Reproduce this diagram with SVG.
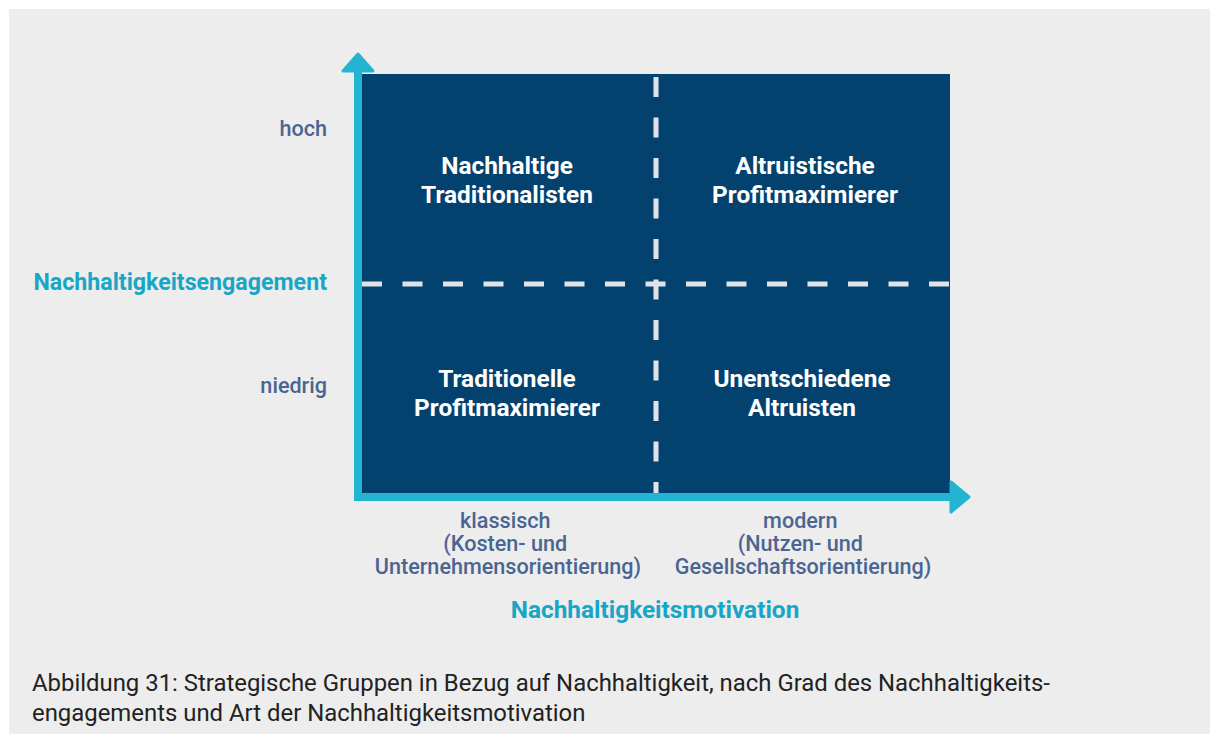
<svg xmlns="http://www.w3.org/2000/svg" width="1210" height="734" viewBox="0 0 1210 734">
  <style>
    .axis-level { font-family: Roboto, "Liberation Sans", sans-serif; font-size: 21.6px; font-weight: 500; fill: #4a6591; }
    .axis-title { font-family: Roboto, "Liberation Sans", sans-serif; font-weight: 700; fill: #17a6c6; }
    .quad-label { font-family: Roboto, "Liberation Sans", sans-serif; font-size: 24.4px; font-weight: 700; fill: #ffffff; text-anchor: middle; }
    .caption { font-family: Roboto, "Liberation Sans", sans-serif; font-size: 23.9px; font-weight: 400; fill: #222222; }
    .divider { stroke: #dfe3e8; stroke-width: 5; stroke-dasharray: 20 20.5; fill: none; }
  </style>

  <!-- page background -->
  <rect x="0" y="0" width="1210" height="734" fill="#ffffff"/>
  <rect x="9" y="9" width="1201" height="725" fill="#ededed"/>

  <!-- quadrant field -->
  <g id="matrix">
    <rect x="362" y="74" width="588" height="419" fill="#03426e"/>
  </g>

  <!-- axes and dividing lines -->
  <g id="connectors">
    <!-- vertical axis -->
    <rect x="354" y="72" width="8" height="429" fill="#22b4d0"/>
    <path d="M343 71 L358 54 L373 71 Z" fill="#22b4d0" stroke="#22b4d0" stroke-width="3" stroke-linejoin="round"/>
    <!-- horizontal axis -->
    <rect x="354" y="493" width="598" height="8" fill="#22b4d0"/>
    <path d="M951 482 L969 497 L951 512 Z" fill="#22b4d0" stroke="#22b4d0" stroke-width="3" stroke-linejoin="round"/>
    <!-- dashed dividers -->
    <line class="divider" x1="656" y1="74" x2="656" y2="493" stroke-dashoffset="-3"/>
    <line class="divider" x1="362" y1="284" x2="950" y2="284"/>
  </g>

  <!-- vertical axis labels -->
  <g id="y-labels">
    <text class="axis-level" x="327" y="135.5" text-anchor="end">hoch</text>
    <text class="axis-title" x="327" y="290" text-anchor="end" font-size="23.2px">Nachhaltigkeitsengagement</text>
    <text class="axis-level" x="327" y="392.5" text-anchor="end">niedrig</text>
  </g>

  <!-- quadrants -->
  <g id="q-nachhaltige-traditionalisten">
    <text class="quad-label" x="507" y="173.5">Nachhaltige</text>
    <text class="quad-label" x="507" y="202.5">Traditionalisten</text>
  </g>
  <g id="q-altruistische-profitmaximierer">
    <text class="quad-label" x="805" y="173.5">Altruistische</text>
    <text class="quad-label" x="805" y="202.5">Profitmaximierer</text>
  </g>
  <g id="q-traditionelle-profitmaximierer">
    <text class="quad-label" x="507" y="386.5">Traditionelle</text>
    <text class="quad-label" x="507" y="415.5">Profitmaximierer</text>
  </g>
  <g id="q-unentschiedene-altruisten">
    <text class="quad-label" x="802" y="386.5">Unentschiedene</text>
    <text class="quad-label" x="802" y="415.5">Altruisten</text>
  </g>

  <!-- horizontal axis labels -->
  <g id="x-labels">
    <text class="axis-level" text-anchor="middle">
      <tspan x="508" y="528">klassisch</tspan>
      <tspan x="508" y="551">(Kosten- und</tspan>
      <tspan x="508" y="574">Unternehmensorientierung)</tspan>
    </text>
    <text class="axis-level" text-anchor="middle">
      <tspan x="803" y="528">modern</tspan>
      <tspan x="803" y="551">(Nutzen- und</tspan>
      <tspan x="803" y="574">Gesellschaftsorientierung)</tspan>
    </text>
    <text class="axis-title" x="655" y="618" text-anchor="middle" font-size="24.4px">Nachhaltigkeitsmotivation</text>
  </g>

  <!-- caption -->
  <g id="caption">
    <text class="caption">
      <tspan x="32" y="691">Abbildung 31: Strategische Gruppen in Bezug auf Nachhaltigkeit, nach Grad des Nachhaltigkeits-</tspan>
      <tspan x="32" y="721">engagements und Art der Nachhaltigkeitsmotivation</tspan>
    </text>
  </g>
</svg>
